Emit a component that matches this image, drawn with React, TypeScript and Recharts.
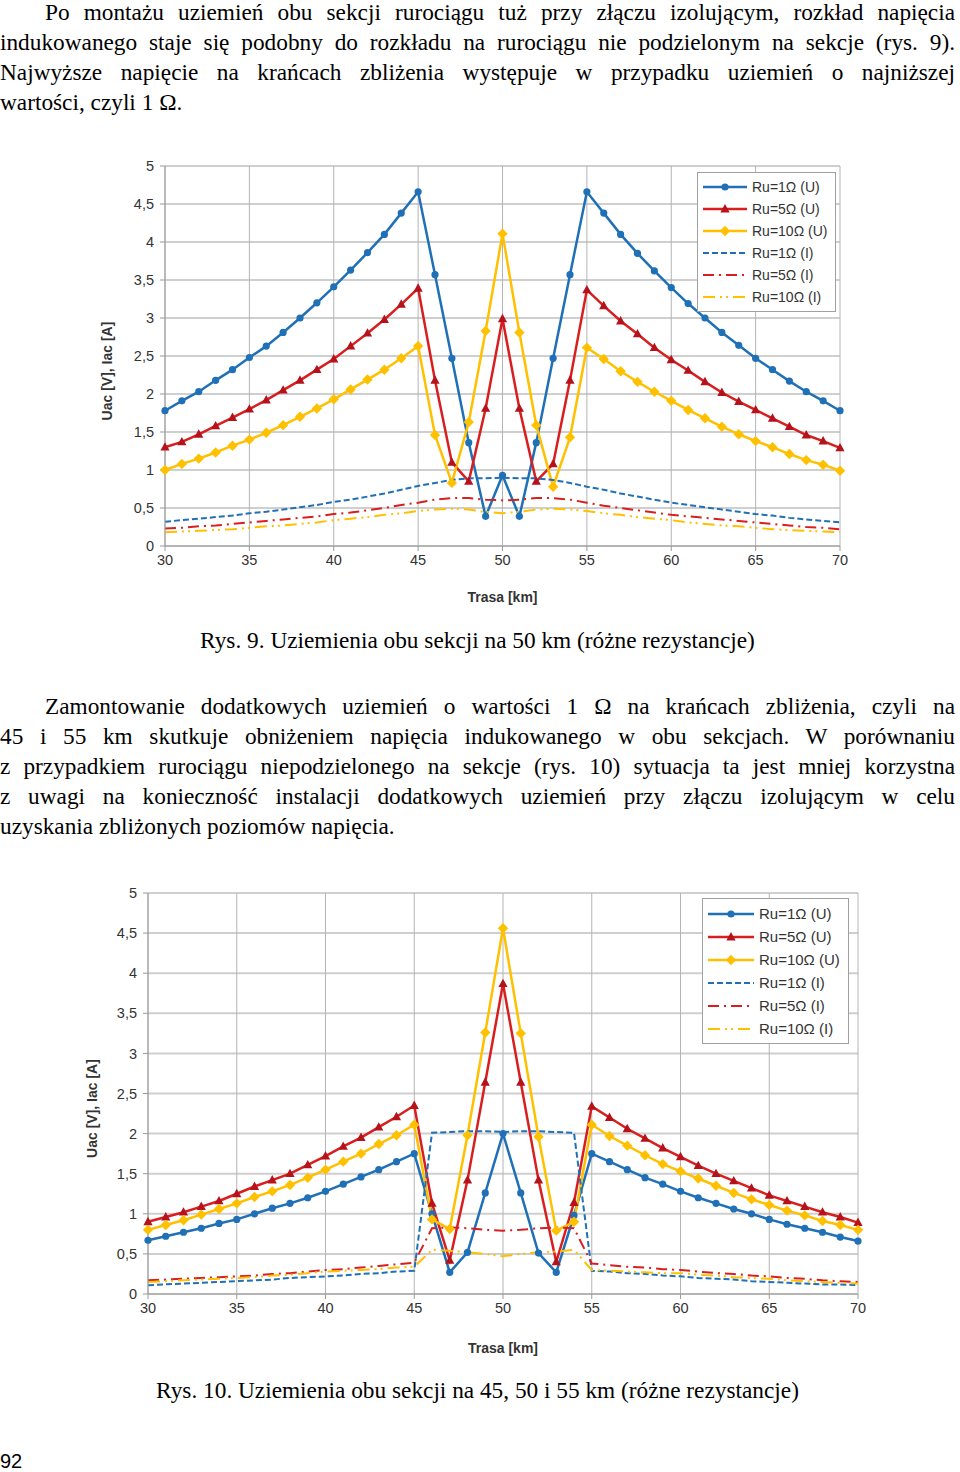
import React from 'react'
import { LineChart, Line, XAxis, YAxis, CartesianGrid, Legend } from 'recharts'

// km along the route
const km = [30, 31, 32, 33, 34, 35, 36, 37, 38, 39, 40, 41, 42, 43, 44, 45, 46, 47, 48, 49, 50,
  51, 52, 53, 54, 55, 56, 57, 58, 59, 60, 61, 62, 63, 64, 65, 66, 67, 68, 69, 70]

const xTicks = [30, 35, 40, 45, 50, 55, 60, 65, 70]
const yTicks = [0, 0.5, 1, 1.5, 2, 2.5, 3, 3.5, 4, 4.5, 5]

const seriesNames = ['Ru=1Ω (U)', 'Ru=5Ω (U)', 'Ru=10Ω (U)', 'Ru=1Ω (I)', 'Ru=5Ω (I)', 'Ru=10Ω (I)']

// Rys. 9
const u1Fig9 = [1.78, 1.91, 2.03, 2.18, 2.32, 2.48, 2.63, 2.81, 3.0, 3.2, 3.41, 3.63, 3.86, 4.1, 4.38, 4.66,
  3.57, 2.47, 1.36, 0.39, 0.93, 0.39, 1.36, 2.47, 3.57, 4.66,
  4.38, 4.1, 3.85, 3.62, 3.4, 3.19, 3.0, 2.81, 2.64, 2.47, 2.32, 2.17, 2.03, 1.91, 1.78]
const u5Fig9 = [1.3, 1.37, 1.47, 1.58, 1.69, 1.8, 1.92, 2.05, 2.18, 2.32, 2.46, 2.63, 2.8, 2.98, 3.18, 3.39,
  2.18, 1.1, 0.85, 1.81, 2.99, 1.81, 0.85, 1.08, 2.18, 3.37,
  3.16, 2.96, 2.79, 2.61, 2.45, 2.31, 2.16, 2.02, 1.9, 1.79, 1.68, 1.57, 1.46, 1.38, 1.29]
const u10Fig9 = [1.0, 1.08, 1.15, 1.23, 1.32, 1.4, 1.49, 1.59, 1.7, 1.81, 1.93, 2.06, 2.19, 2.32, 2.47, 2.63,
  1.46, 0.83, 1.63, 2.83, 4.11, 2.81, 1.59, 0.78, 1.43, 2.61,
  2.46, 2.3, 2.16, 2.03, 1.91, 1.79, 1.68, 1.57, 1.47, 1.38, 1.3, 1.21, 1.13, 1.07, 0.99]
const i1Fig9 = [0.32, 0.34, 0.36, 0.38, 0.4, 0.43, 0.45, 0.48, 0.51, 0.54, 0.58, 0.61, 0.65, 0.69, 0.74, 0.79,
  0.83, 0.87, 0.89, 0.89, 0.9, 0.89, 0.89, 0.87, 0.83, 0.78,
  0.74, 0.69, 0.65, 0.61, 0.57, 0.54, 0.51, 0.48, 0.45, 0.42, 0.4, 0.37, 0.35, 0.33, 0.31]
const i5Fig9 = [0.23, 0.24, 0.26, 0.27, 0.29, 0.31, 0.33, 0.35, 0.37, 0.39, 0.42, 0.44, 0.47, 0.5, 0.54, 0.57,
  0.61, 0.63, 0.63, 0.61, 0.6, 0.61, 0.63, 0.63, 0.61, 0.57,
  0.53, 0.5, 0.47, 0.44, 0.41, 0.39, 0.37, 0.35, 0.33, 0.31, 0.29, 0.27, 0.25, 0.24, 0.22]
const i10Fig9 = [0.18, 0.19, 0.2, 0.21, 0.22, 0.24, 0.26, 0.27, 0.29, 0.31, 0.34, 0.36, 0.38, 0.41, 0.43, 0.46,
  0.48, 0.49, 0.48, 0.45, 0.43, 0.45, 0.48, 0.49, 0.48, 0.46,
  0.43, 0.41, 0.38, 0.36, 0.34, 0.31, 0.29, 0.27, 0.26, 0.24, 0.22, 0.21, 0.2, 0.19, 0.18]

// Rys. 10
const u1Fig10 = [0.67, 0.72, 0.77, 0.82, 0.88, 0.93, 1.0, 1.07, 1.13, 1.2, 1.28, 1.37, 1.46, 1.55, 1.65, 1.75,
  1.0, 0.27, 0.52, 1.26, 2.0, 1.26, 0.51, 0.27, 0.98, 1.75,
  1.65, 1.55, 1.45, 1.37, 1.28, 1.2, 1.13, 1.06, 1.0, 0.93, 0.87, 0.82, 0.77, 0.71, 0.66]
const u5Fig10 = [0.9, 0.96, 1.02, 1.09, 1.16, 1.25, 1.34, 1.42, 1.5, 1.61, 1.72, 1.84, 1.95, 2.08, 2.21, 2.35,
  1.13, 0.42, 1.42, 2.64, 3.87, 2.64, 1.42, 0.4, 1.14, 2.34,
  2.2, 2.06, 1.94, 1.82, 1.71, 1.6, 1.5, 1.41, 1.32, 1.23, 1.16, 1.09, 1.02, 0.96, 0.89]
const u10Fig10 = [0.8, 0.86, 0.92, 0.99, 1.06, 1.13, 1.21, 1.28, 1.36, 1.45, 1.55, 1.65, 1.75, 1.87, 1.98, 2.11,
  0.93, 0.81, 1.98, 3.26, 4.56, 3.25, 1.96, 0.79, 0.9, 2.11,
  1.97, 1.85, 1.73, 1.62, 1.53, 1.44, 1.35, 1.26, 1.18, 1.11, 1.04, 0.98, 0.91, 0.86, 0.8]
const i1Fig10 = [0.11, 0.12, 0.13, 0.14, 0.15, 0.16, 0.17, 0.18, 0.2, 0.21, 0.22, 0.23, 0.25, 0.26, 0.28, 0.29,
  2.01, 2.02, 2.03, 2.03, 2.02, 2.03, 2.03, 2.02, 2.01, 0.29,
  0.28, 0.26, 0.25, 0.23, 0.22, 0.2, 0.19, 0.18, 0.16, 0.15, 0.14, 0.13, 0.12, 0.12, 0.11]
const i5Fig10 = [0.17, 0.18, 0.19, 0.2, 0.21, 0.22, 0.23, 0.25, 0.26, 0.28, 0.3, 0.31, 0.33, 0.35, 0.37, 0.39,
  0.82, 0.83, 0.82, 0.8, 0.79, 0.8, 0.82, 0.83, 0.82, 0.38,
  0.36, 0.34, 0.33, 0.31, 0.3, 0.28, 0.26, 0.25, 0.23, 0.22, 0.2, 0.19, 0.17, 0.16, 0.15]
const i10Fig10 = [0.15, 0.16, 0.17, 0.18, 0.19, 0.2, 0.21, 0.23, 0.24, 0.26, 0.28, 0.29, 0.3, 0.31, 0.33, 0.34,
  0.55, 0.54, 0.52, 0.5, 0.47, 0.5, 0.52, 0.53, 0.55, 0.3,
  0.29, 0.28, 0.27, 0.26, 0.26, 0.24, 0.23, 0.21, 0.2, 0.19, 0.17, 0.16, 0.15, 0.14, 0.13]

// text lines, as broken in the source page
const para1 = [
  'Po montażu uziemień obu sekcji rurociągu tuż przy złączu izolującym, rozkład napięcia',
  'indukowanego staje się podobny do rozkładu na rurociągu nie podzielonym na sekcje (rys. 9).',
  'Najwyższe napięcie na krańcach zbliżenia występuje w przypadku uziemień o najniższej',
  'wartości, czyli 1 Ω.',
]
const para2 = [
  'Zamontowanie dodatkowych uziemień o wartości 1 Ω na krańcach zbliżenia, czyli na',
  '45 i 55 km skutkuje obniżeniem napięcia indukowanego w obu sekcjach. W porównaniu',
  'z przypadkiem rurociągu niepodzielonego na sekcje (rys. 10) sytuacja ta jest mniej korzystna',
  'z uwagi na konieczność instalacji dodatkowych uziemień przy złączu izolującym w celu',
  'uzyskania zbliżonych poziomów napięcia.',
]

const BLUE = '#1f70b6'
const RED = '#d81e1e'
const YELLOW = '#ffc000'

const styles = [
  { color: BLUE, dash: undefined, marker: 'circle' },
  { color: RED, dash: undefined, marker: 'triangle' },
  { color: YELLOW, dash: undefined, marker: 'diamond' },
  { color: BLUE, dash: '6 3', marker: null },
  { color: RED, dash: '11 5 2 5', marker: null },
  { color: YELLOW, dash: '12 5 2 4 2 5', marker: null },
]

const keys = ['u1', 'u5', 'u10', 'i1', 'i5', 'i10']

const buildRows = (cols: number[][]) =>
  km.map((k, i) => ({ km: k, u1: cols[0][i], u5: cols[1][i], u10: cols[2][i], i1: cols[3][i], i5: cols[4][i], i10: cols[5][i] }))

const fig9 = buildRows([u1Fig9, u5Fig9, u10Fig9, i1Fig9, i5Fig9, i10Fig9])
const fig10 = buildRows([u1Fig10, u5Fig10, u10Fig10, i1Fig10, i5Fig10, i10Fig10])

const Marker = ({ type, cx, cy, color }: { type: string | null; cx: number; cy: number; color: string }) => {
  if (type === 'circle') return <circle cx={cx} cy={cy} r={3.6} fill={color} />
  if (type === 'triangle')
    return <path d={`M${cx},${cy - 5} L${cx + 4.6},${cy + 3.4} L${cx - 4.6},${cy + 3.4} Z`} fill="#b5121b" />
  if (type === 'diamond')
    return <path d={`M${cx},${cy - 5.2} L${cx + 5.2},${cy} L${cx},${cy + 5.2} L${cx - 5.2},${cy} Z`} fill={color} />
  return null
}

const sans = '"Liberation Sans", Arial, sans-serif'
const fmt = (v: number) => String(v).replace('.', ',')

const LegendBox = ({ fontSize, rowH, sample }: { fontSize: number; rowH: number; sample: number }) => (
  <div style={{ border: '1px solid #a0a0a0', background: '#fff', padding: '3px 8px 3px 5px', fontFamily: sans, fontSize, color: '#333', textAlign: 'left' }}>
    {seriesNames.map((n, i) => (
      <div key={n} style={{ display: 'flex', alignItems: 'center', height: rowH }}>
        <svg width={sample} height={12} style={{ marginRight: 5 }}>
          <line x1={0} y1={6} x2={sample} y2={6} stroke={styles[i].color} strokeWidth={i < 3 ? 2.5 : 2} strokeDasharray={styles[i].dash} />
          <Marker type={styles[i].marker} cx={sample / 2} cy={6} color={styles[i].color} />
        </svg>
        <span>{n}</span>
      </div>
    ))}
  </div>
)

// rotated axis title, sitting a bit below the middle of the axis like in the source
const yTitle = (offset: number, shift: number) => (props: any) => {
  const vb = props.viewBox || {}
  const x = vb.x + offset
  const y = vb.y + vb.height / 2 + shift
  return (
    <text x={x} y={y} transform={`rotate(-90, ${x}, ${y})`} textAnchor="middle" dominantBaseline="central"
      style={{ fontWeight: 'bold', fontSize: 14, fontFamily: sans, fill: '#333' }}>
      Uac [V], Iac [A]
    </text>
  )
}

interface ChartProps {
  data: Record<string, number>[]
  width: number
  height: number
  margin: { top: number; right: number; bottom: number; left: number }
  yLabelOffset: number
  yLabelShift: number
  xLabelOffset: number
  legendPos: { left: number; top: number }
  legendFont: number
  legendRow: number
  legendSample: number
  fontSize: number
}

function RouteChart(p: ChartProps) {
  return (
    <LineChart width={p.width} height={p.height} data={p.data} margin={p.margin}>
      <CartesianGrid vertical={false} stroke="#cfcfcf" strokeWidth={2} />
      <CartesianGrid horizontal={false} stroke="#b4b4b4" strokeWidth={1} />
      <XAxis
        dataKey="km"
        type="number"
        domain={[30, 70]}
        ticks={xTicks}
        height={30}
        tickSize={5}
        tickMargin={4}
        stroke="#9a9a9a"
        tick={{ fill: '#333', fontSize: p.fontSize, fontFamily: sans }}
        label={{ value: 'Trasa [km]', position: 'bottom', offset: p.xLabelOffset, style: { fontWeight: 'bold', fontSize: 14, fontFamily: sans, fill: '#333' } }}
      />
      <YAxis
        type="number"
        domain={[0, 5]}
        ticks={yTicks}
        width={60}
        tickSize={5}
        tickMargin={6}
        stroke="#9a9a9a"
        tickFormatter={fmt}
        tick={{ fill: '#333', fontSize: p.fontSize, fontFamily: sans }}
        label={{ content: yTitle(p.yLabelOffset, p.yLabelShift) }}
      />
      {keys.map((k, i) => (
        <Line
          key={k}
          type="linear"
          dataKey={k}
          name={seriesNames[i]}
          stroke={styles[i].color}
          strokeWidth={i < 3 ? 2.5 : 2}
          strokeDasharray={styles[i].dash}
          isAnimationActive={false}
          dot={
            styles[i].marker
              ? (d: any) => <Marker key={`${k}-${d.index}`} type={styles[i].marker} cx={d.cx} cy={d.cy} color={styles[i].color} />
              : false
          }
          activeDot={false}
        />
      ))}
      {/* vertical + center + middle keeps the legend from taking room off the plot */}
      <Legend
        layout="vertical"
        align="center"
        verticalAlign="middle"
        wrapperStyle={{ left: p.legendPos.left, top: p.legendPos.top, width: 'auto' }}
        content={() => <LegendBox fontSize={p.legendFont} rowH={p.legendRow} sample={p.legendSample} />}
      />
    </LineChart>
  )
}

const serif = '"Liberation Serif", "Times New Roman", serif'
const lineStyle: React.CSSProperties = {
  fontFamily: serif, fontSize: 23.3, lineHeight: '30px', height: 30, color: '#000',
  textAlign: 'justify', textAlignLast: 'justify', whiteSpace: 'nowrap',
}
const caption: React.CSSProperties = {
  position: 'absolute', left: 0, width: 955, fontFamily: serif, fontSize: 23.3, lineHeight: '30px',
  textAlign: 'center', color: '#000', margin: 0,
}

const Paragraph = ({ lines, top }: { lines: string[]; top: number }) => (
  <div style={{ position: 'absolute', left: 0, top, width: 955 }}>
    {lines.map((l, i) => (
      <div
        key={i}
        style={{
          ...lineStyle,
          paddingLeft: i === 0 ? 45 : 0,
          textAlignLast: i === lines.length - 1 ? 'left' : 'justify',
        }}
      >
        {l}
      </div>
    ))}
  </div>
)

export default function App() {
  return (
    <div style={{ position: 'absolute', left: 0, top: 0, width: 960, height: 1472, background: '#fff', overflow: 'hidden' }}>
      <Paragraph lines={para1} top={-3} />

      <div style={{ position: 'absolute', left: 90, top: 150 }}>
        <RouteChart
          data={fig9}
          width={775}
          height={460}
          margin={{ top: 16, right: 25, bottom: 34, left: 15 }}
          yLabelOffset={2}
          yLabelShift={15}
          xLabelOffset={16}
          legendPos={{ left: 607, top: 22 }}
          legendFont={14}
          legendRow={22}
          legendSample={44}
          fontSize={14.5}
        />
      </div>

      <p style={{ ...caption, top: 625 }}>Rys. 9. Uziemienia obu sekcji na 50 km (różne rezystancje)</p>

      <Paragraph lines={para2} top={691} />

      <div style={{ position: 'absolute', left: 70, top: 880 }}>
        <RouteChart
          data={fig10}
          width={815}
          height={480}
          margin={{ top: 13, right: 27, bottom: 36, left: 18 }}
          yLabelOffset={4}
          yLabelShift={15}
          xLabelOffset={19}
          legendPos={{ left: 632, top: 18 }}
          legendFont={15}
          legendRow={23}
          legendSample={46}
          fontSize={14.5}
        />
      </div>

      <p style={{ ...caption, top: 1375 }}>Rys. 10. Uziemienia obu sekcji na 45, 50 i 55 km (różne rezystancje)</p>

      <div style={{ position: 'absolute', left: 0, top: 1450, fontFamily: sans, fontSize: 20 }}>92</div>
    </div>
  )
}
